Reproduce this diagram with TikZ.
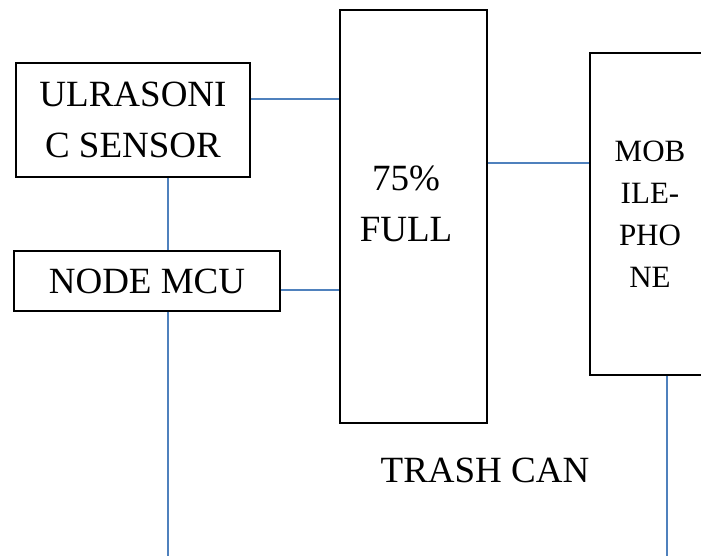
\documentclass[tikz,border=0pt]{standalone}
\usepackage{fontspec}
\setmainfont{Liberation Serif}
\definecolor{wireblue}{RGB}{79,129,189}

\begin{document}
\begin{tikzpicture}[x=1pt, y=-1pt]

    % Styles for boxes, text and wires
    \tikzset{box/.style={draw, line width=1.7pt, inner sep=0pt},
             lbl/.style={inner sep=1pt, align=center, font=\fontsize{37}{51}\selectfont},
             wire/.style={draw=wireblue, line width=1.4pt}}

    % Page frame (the phone box runs off the right edge)
    \clip (0,0) rectangle (701,556);

    % --- Boxes ---
    \node[box, lbl, minimum width=234pt, minimum height=114pt] (sensor) at (133,120) {ULRASONI\\C SENSOR};
    \node[box, lbl, minimum width=266pt, minimum height=60pt] (mcu) at (147,281) {NODE MCU};
    \node[box, minimum width=147pt, minimum height=413pt] (full) at (413.5,216.5) {};
    \node[lbl] (fulltxt) at (406,204) {75\%\\FULL};
    \node[box, lbl, font=\fontsize{31}{42}\selectfont, minimum width=120pt, minimum height=322pt]
        (mobile) at (650,214) {MOB\\ILE-\\PHO\\NE};
    \node[lbl] (trash) at (485,470) {TRASH CAN};

    % Free ends of the two lines leaving the bottom
    \coordinate (mcuend) at (168,560);
    \coordinate (mobileend) at (667,560);

    % Tap points on the box sides
    \path ([yshift=21pt]sensor.east) coordinate (s1)
          ([yshift=-9pt]mcu.east) coordinate (m1)
          ([yshift=53.5pt]full.east) coordinate (f1)
          ([xshift=35pt]sensor.south) coordinate (s2)
          ([xshift=21pt]mcu.south) coordinate (m2);

    % --- Wires ---
    \draw[wire] (s1) -- (s1 -| full.west);
    \draw[wire] (m1) -- (m1 -| full.west);
    \draw[wire] (f1) -- (f1 -| mobile.west);
    \draw[wire] (s2) -- (s2 |- mcu.north);
    \draw[wire] (m2) -- (mcuend);
    \draw[wire] (mobile.south -| mobileend) -- (mobileend);
\end{tikzpicture}
\end{document}
